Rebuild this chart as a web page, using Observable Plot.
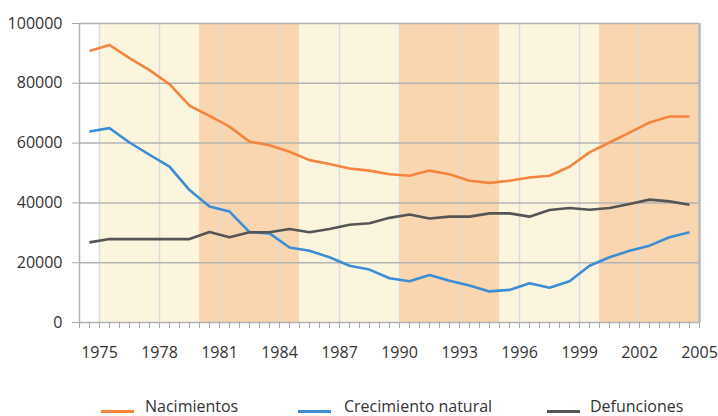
<!DOCTYPE html>
<html>
<head>
<meta charset="utf-8">
<script src="https://cdn.jsdelivr.net/npm/d3@7"></script>
<script src="https://cdn.jsdelivr.net/npm/@observablehq/plot@0.6"></script>
<style>
  html, body { margin: 0; padding: 0; background: #fff; }
  body { width: 718px; height: 416px; overflow: hidden; font-family: "Open Sans", sans-serif; }
  #chart svg { display: block; }
  #legend { position: relative; height: 46px; width: 718px; }
  .lg-line { position: absolute; height: 3px; width: 33px; top: 40px; }
  .lg-text { position: absolute; top: 27px; font-size: 16px; color: #333; line-height: 18px; white-space: nowrap; }
</style>
</head>
<body>
<div id="chart"></div>
<div id="legend"></div>
<script>
// ---- data ----
const years = [1975, 1976, 1977, 1978, 1979, 1980, 1981, 1982, 1983, 1984,
               1985, 1986, 1987, 1988, 1989, 1990, 1991, 1992, 1993, 1994,
               1995, 1996, 1997, 1998, 1999, 2000, 2001, 2002, 2003, 2004, 2005];
const nacimientos = [90800, 92800, 88400, 84400, 79700, 72500, 69100, 65500, 60500, 59300,
                     57100, 54300, 53000, 51500, 50800, 49600, 49100, 50800, 49600, 47400,
                     46700, 47400, 48500, 49100, 52100, 56900, 60200, 63500, 66900, 68900, 68900];
const crecimiento = [63900, 65000, 60200, 56100, 52100, 44300, 38800, 37100, 30200, 29800,
                     25100, 24000, 21800, 19000, 17700, 14800, 13800, 15900, 14000, 12400,
                     10400, 10900, 13100, 11600, 13800, 19000, 21800, 24000, 25700, 28500, 30200];
const defunciones = [26800, 27900, 27900, 27900, 27900, 27900, 30300, 28500, 30200, 30200,
                     31300, 30200, 31300, 32700, 33200, 35000, 36100, 34800, 35400, 35400,
                     36500, 36500, 35400, 37600, 38300, 37700, 38300, 39600, 41100, 40500, 39400];
const seriesNames = ["Nacimientos", "Crecimiento natural", "Defunciones"];
const seriesColors = ["#f5843f", "#3b8dd5", "#555555"];
const xTickLabels = [1975, 1978, 1981, 1984, 1987, 1990, 1993, 1996, 1999, 2002, 2005];
const yTickValues = [0, 20000, 40000, 60000, 80000, 100000];
const bandStart = [1975, 1980, 1985, 1990, 1995, 2000];
const bandEnd = [1980, 1985, 1990, 1995, 2000, 2005];
const bandKind = ["claro", "oscuro", "claro", "oscuro", "claro", "oscuro"];
const bandColors = {claro: "#fbf5de", oscuro: "#fad6b0"};

// ---- tables ----
const allSeries = [nacimientos, crecimiento, defunciones];
const rows = [];
allSeries.forEach((vals, si) => {
  vals.forEach((v, i) => rows.push({year: years[i], value: v, serie: seriesNames[si]}));
});
const bands = bandStart.map((s, i) => ({start: s, end: bandEnd[i], kind: bandKind[i]}));
const halfYearTicks = d3.range(1974, 2005.001, 0.5);

const xMin = years[0] - 1, xMax = years[years.length - 1];

const chart = Plot.plot({
  width: 718,
  height: 370,
  marginLeft: 79,
  marginRight: 19,
  marginTop: 23,
  marginBottom: 48,
  x: {domain: [xMin, xMax]},
  y: {domain: [0, 100000]},
  color: {domain: seriesNames, range: seriesColors},
  style: {fontFamily: "'Open Sans', sans-serif", fontSize: "16px", color: "#333", background: "#fff"},
  marks: [
    Plot.rect(bands, {x1: "start", x2: "end", y1: 0, y2: 100000, fill: d => bandColors[d.kind]}),
    Plot.ruleX(xTickLabels.filter(v => v < xMax), {stroke: "#dcdcdc", strokeWidth: 1.5}),
    Plot.ruleY(yTickValues, {stroke: "#b3b3b3", strokeWidth: 1.5}),
    Plot.ruleX([xMin], {stroke: "#b3b3b3", strokeWidth: 1.5}),
    Plot.ruleX([xMax], {stroke: "#b8b8b8", strokeWidth: 2.5}),
    Plot.axisY({ticks: yTickValues, tickSize: 7, tickPadding: 10, stroke: "#aaa", fill: "#333",
                tickFormat: d => String(d), label: null}),
    Plot.axisX({ticks: halfYearTicks, tickSize: 6, stroke: "#aaa", tickFormat: () => "", label: null}),
    Plot.axisX({ticks: xTickLabels, tickSize: 0, tickPadding: 24, fill: "#333",
                tickFormat: d => String(d), label: null}),
    ...seriesNames.map(name =>
      Plot.line(rows.filter(r => r.serie === name), {
        x: d => d.year - 0.5, y: "value", stroke: "serie",
        strokeWidth: 2.6, strokeLinejoin: "round", strokeLinecap: "butt"
      })
    )
  ]
});
document.getElementById("chart").appendChild(chart);

// ---- legend ----
const legend = document.getElementById("legend");
const legendLineX = [101, 298, 547];
const legendTextX = [145, 344, 590];
seriesNames.forEach((name, i) => {
  const l = document.createElement("div");
  l.className = "lg-line";
  l.style.left = legendLineX[i] + "px";
  l.style.background = seriesColors[i];
  legend.appendChild(l);
  const t = document.createElement("div");
  t.className = "lg-text";
  t.style.left = legendTextX[i] + "px";
  t.textContent = name;
  legend.appendChild(t);
});
</script>
</body>
</html>
